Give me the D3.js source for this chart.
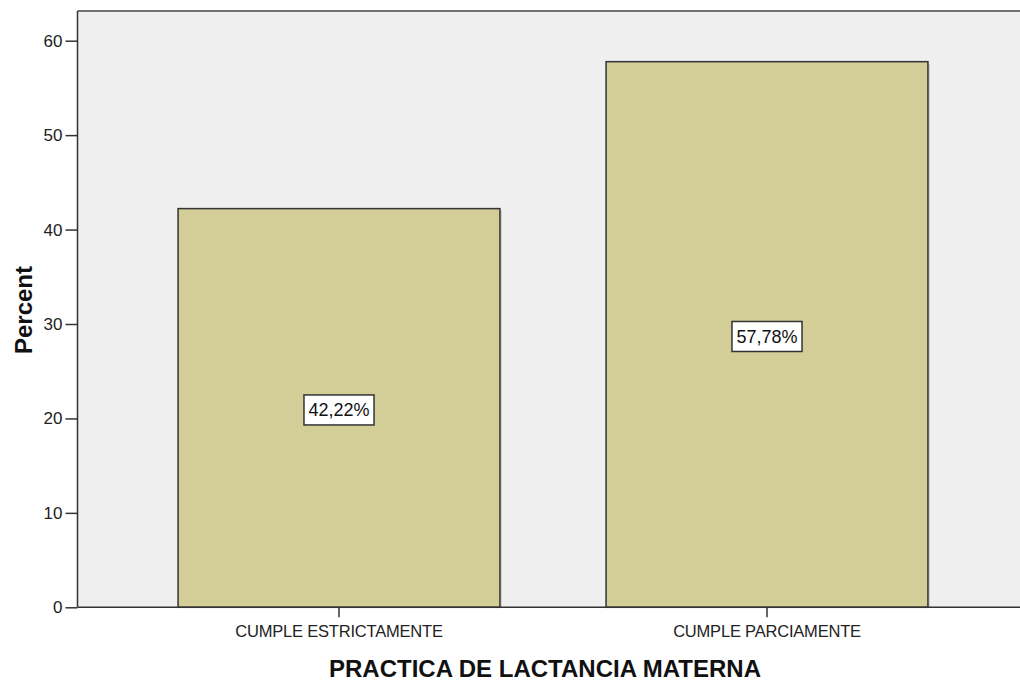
<!DOCTYPE html>
<html>
<head>
<meta charset="utf-8">
<script src="https://cdn.jsdelivr.net/npm/d3@7"></script>
<style>
  html, body { margin: 0; padding: 0; background: #ffffff; }
  svg { display: block; }
  text { font-family: "Liberation Sans", Arial, sans-serif; }
</style>
</head>
<body>
<svg id="chart" width="1020" height="684"></svg>
<script>
const categories = ["CUMPLE ESTRICTAMENTE", "CUMPLE PARCIAMENTE"];
const percentValues = [42.22, 57.78];
const valueLabels = ["42,22%", "57,78%"];
const yTicks = [0, 10, 20, 30, 40, 50, 60];
const xTitle = "PRACTICA DE LACTANCIA MATERNA";
const yTitle = "Percent";

const svg = d3.select("#chart");
const plot = { left: 77.5, top: 11, right: 1020, bottom: 607.3 };

const y = d3.scaleLinear().domain([0, 60]).range([607.3, 40.7]);
const x = d3.scaleBand().domain(categories).range([125, 981])
  .paddingInner(0.248).paddingOuter(0.124);

// plot background
svg.append("rect")
  .attr("x", plot.left).attr("y", plot.top)
  .attr("width", plot.right - plot.left).attr("height", plot.bottom - plot.top)
  .attr("fill", "#efefef");

// bars shadow
svg.append("g").selectAll("rect").data(categories).join("rect")
  .attr("x", d => x(d) + 2)
  .attr("y", (d, i) => y(percentValues[i]) + 2)
  .attr("width", x.bandwidth())
  .attr("height", (d, i) => y(0) - y(percentValues[i]) - 2)
  .attr("fill", "#b8b8b0").attr("opacity", 0.6);

// bars
svg.append("g").selectAll("rect").data(categories).join("rect")
  .attr("x", d => x(d))
  .attr("y", (d, i) => y(percentValues[i]))
  .attr("width", x.bandwidth())
  .attr("height", (d, i) => y(0) - y(percentValues[i]))
  .attr("fill", "#d3ce98")
  .attr("stroke", "#333333").attr("stroke-width", 1.5);

// frame top line
svg.append("line").attr("x1", plot.left).attr("x2", plot.right)
  .attr("y1", plot.top).attr("y2", plot.top)
  .attr("stroke", "#444").attr("stroke-width", 1.5);

// y axis
const yAxis = d3.axisLeft(y).tickValues(yTicks).tickSize(12).tickPadding(3)
  .tickFormat(d3.format("d"));
const gy = svg.append("g").attr("transform", `translate(${plot.left},0)`).call(yAxis);
gy.select(".domain").attr("d", `M0,${plot.top}V${plot.bottom}`)
  .attr("stroke", "#333").attr("stroke-width", 1.5);
gy.selectAll(".tick line").attr("stroke", "#333").attr("stroke-width", 1.5);
gy.selectAll(".tick text").attr("font-size", 17).attr("fill", "#222")
  .attr("font-family", "'Liberation Sans', Arial, sans-serif");

// x axis
const xAxis = d3.axisBottom(x).tickSize(10).tickPadding(8);
const gx = svg.append("g").attr("transform", `translate(0,${plot.bottom})`).call(xAxis);
gx.select(".domain").attr("d", `M${plot.left},0H${plot.right}`)
  .attr("stroke", "#333").attr("stroke-width", 1.5);
gx.selectAll(".tick line").attr("stroke", "#333").attr("stroke-width", 1.5);
gx.selectAll(".tick text").attr("font-size", 16.5).attr("fill", "#222")
  .attr("font-family", "'Liberation Sans', Arial, sans-serif")
  .attr("letter-spacing", -0.2);

// value labels with boxes
const lbl = svg.append("g").selectAll("g").data(categories).join("g")
  .attr("transform", (d, i) => `translate(${x(d) + x.bandwidth() / 2},${y(percentValues[i] / 2) + 2})`);
lbl.each(function(d, i) {
  const g = d3.select(this);
  const t = g.append("text").text(valueLabels[i])
    .attr("text-anchor", "middle").attr("dy", "0.36em")
    .attr("font-size", 18).attr("fill", "#111");
  const bb = t.node().getBBox();
  const padX = 4.5, h = 30;
  g.insert("rect", "text")
    .attr("x", bb.x - padX).attr("y", -h / 2)
    .attr("width", bb.width + 2 * padX).attr("height", h)
    .attr("fill", "#ffffff").attr("stroke", "#333").attr("stroke-width", 1.5);
});

// axis titles
svg.append("text").text(xTitle)
  .attr("x", 545).attr("y", 677)
  .attr("text-anchor", "middle")
  .attr("font-size", 24).attr("font-weight", "bold").attr("fill", "#111");

svg.append("text").text(yTitle)
  .attr("transform", "translate(31.5,310) rotate(-90)")
  .attr("text-anchor", "middle")
  .attr("font-size", 24).attr("font-weight", "bold").attr("fill", "#111");
</script>
</body>
</html>
